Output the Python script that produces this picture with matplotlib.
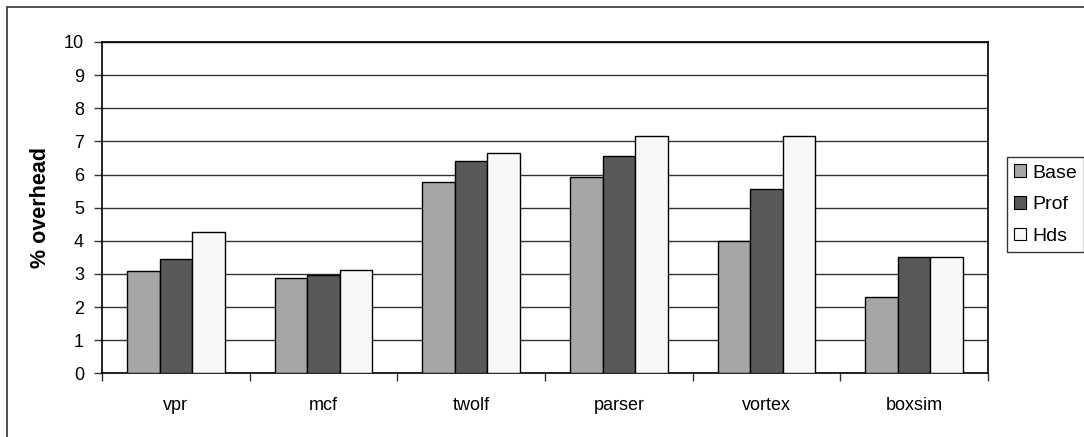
import matplotlib
matplotlib.use("Agg")
import matplotlib.pyplot as plt
import numpy as np
from matplotlib.patches import Rectangle

categories = ["vpr", "mcf", "twolf", "parser", "vortex", "boxsim"]
series_names = ["Base", "Prof", "Hds"]
base = [3.08, 2.89, 5.77, 5.92, 4.00, 2.31]
prof = [3.46, 2.98, 6.40, 6.55, 5.57, 3.51]
hds = [4.25, 3.13, 6.64, 7.17, 7.17, 3.51]
colors = ["#a6a6a6", "#595959", "#f8f8f8"]
yticks = list(range(0, 11))

plt.rcParams['font.family'] = ['Liberation Sans', 'DejaVu Sans']

W, H = 1084, 437
fig = plt.figure(figsize=(W / 100, H / 100), dpi=100)
ax = fig.add_axes([102 / W, 1 - 373.3 / H, (988 - 102) / W, (373.3 - 42) / H])

x = np.arange(len(categories))
bw = 0.22
for i, (vals, name, c) in enumerate(zip([base, prof, hds], series_names, colors)):
    ax.bar(x + (i - 1) * bw, vals, bw, color=c, edgecolor="black", linewidth=1.0,
           label=name, zorder=3)

ax.set_xlim(-0.5, len(categories) - 0.5)
ax.set_ylim(0, 10)
ax.set_yticks(yticks)
ax.set_yticklabels([str(t) for t in yticks], fontsize=13)
ax.yaxis.grid(True, color="#333333", linewidth=1.0, zorder=0)
ax.set_axisbelow(True)

ax.set_xticks(x)
ax.set_xticklabels(categories, fontsize=13)
ax.tick_params(axis="x", which="major", length=0, pad=17)
ax.set_xticks(np.arange(-0.5, len(categories)), minor=True)
ax.tick_params(axis="x", which="minor", length=6, width=1, direction="out", color="#333333")
ax.tick_params(axis="y", length=6, width=1, direction="out", pad=7, color="#333333")

for s in ax.spines.values():
    s.set_color("black")
    s.set_linewidth(1.2)

ax.set_ylabel("% overhead", fontsize=15.5, fontweight="bold", labelpad=9)

leg = fig.legend(loc="upper left", bbox_to_anchor=(1007 / W, 1 - 157 / H),
                 borderaxespad=0, fontsize=14, frameon=True, fancybox=False,
                 handlelength=0.62, handleheight=0.62, handletextpad=0.3,
                 labelspacing=0.75, borderpad=0.38)
leg.get_frame().set_edgecolor("black")
leg.get_frame().set_linewidth(1.0)
for h in leg.legend_handles:
    h.set_linewidth(0.8)

fig.patches.append(Rectangle((7 / W, -0.1), 1.2, 1.1 - 7 / H, transform=fig.transFigure,
                             fill=False, edgecolor="#333333", linewidth=1.2, figure=fig))

fig.savefig("out.png", dpi=100)
